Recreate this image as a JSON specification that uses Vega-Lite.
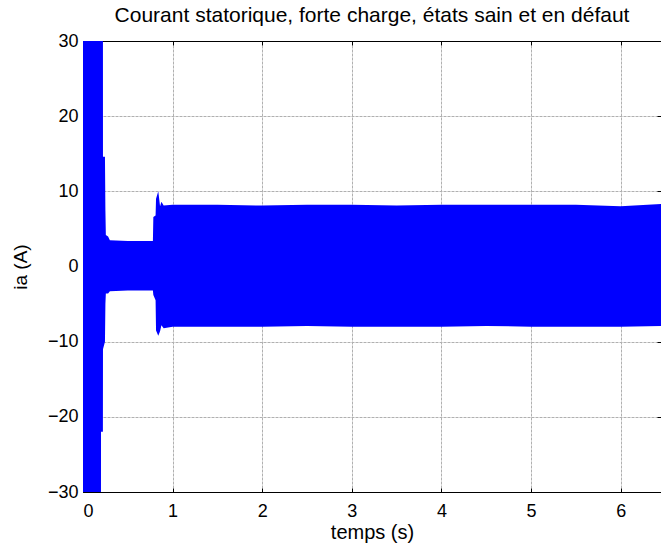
{
  "$schema": "https://vega.github.io/schema/vega-lite/v6.json",
  "width": 578,
  "height": 451,
  "autosize": {"type": "none"},
  "padding": {"left": 83, "top": 41, "right": 0, "bottom": 59},
  "background": "white",
  "config": {
    "font": "Liberation Sans",
    "view": {"stroke": "black", "strokeWidth": 1},
    "axis": {
      "labelFont": "Liberation Sans",
      "titleFont": "Liberation Sans",
      "labelFontSize": 18,
      "titleFontSize": 19,
      "labelColor": "black",
      "titleColor": "black",
      "titleFontWeight": "normal",
      "domainColor": "black",
      "tickColor": "black",
      "gridColor": "#b0b0b0",
      "gridDash": [3, 1],
      "gridWidth": 1
    },
    "title": {"font": "Liberation Sans", "fontSize": 21, "fontWeight": "normal", "color": "black"}
  },
  "title": {"text": "Courant statorique, forte charge, états sain et en défaut", "anchor": "middle", "offset": 6},
  "data": {
    "values": [
      {"t": 0.0, "hi": 45, "lo": -45},
      {"t": 0.2, "hi": 45, "lo": -45},
      {"t": 0.201, "hi": 45, "lo": -22},
      {"t": 0.222, "hi": 45, "lo": -22},
      {"t": 0.223, "hi": 14.6, "lo": -11},
      {"t": 0.245, "hi": 14.6, "lo": -10},
      {"t": 0.25, "hi": 7.5, "lo": -5},
      {"t": 0.255, "hi": 4.2, "lo": -3.6},
      {"t": 0.28, "hi": 4.0, "lo": -3.6},
      {"t": 0.3, "hi": 3.5, "lo": -3.3},
      {"t": 0.5, "hi": 3.4, "lo": -3.2},
      {"t": 0.78, "hi": 3.4, "lo": -3.2},
      {"t": 0.785, "hi": 6.6, "lo": -3.8},
      {"t": 0.81, "hi": 6.8, "lo": -4.5},
      {"t": 0.815, "hi": 9.0, "lo": -8.5},
      {"t": 0.84, "hi": 10.0, "lo": -9.2},
      {"t": 0.86, "hi": 8.0, "lo": -8.6},
      {"t": 0.875, "hi": 8.6, "lo": -7.8},
      {"t": 0.9, "hi": 8.1, "lo": -8.2},
      {"t": 1.0, "hi": 8.2, "lo": -8.0},
      {"t": 1.5, "hi": 8.2, "lo": -8.0},
      {"t": 2.0, "hi": 8.1, "lo": -8.0},
      {"t": 2.5, "hi": 8.2, "lo": -7.9},
      {"t": 3.0, "hi": 8.2, "lo": -8.0},
      {"t": 3.5, "hi": 8.1, "lo": -8.0},
      {"t": 4.0, "hi": 8.2, "lo": -8.0},
      {"t": 4.5, "hi": 8.2, "lo": -7.9},
      {"t": 5.0, "hi": 8.2, "lo": -8.0},
      {"t": 5.5, "hi": 8.2, "lo": -8.0},
      {"t": 6.0, "hi": 8.0, "lo": -8.0},
      {"t": 6.45, "hi": 8.3, "lo": -7.9}
    ]
  },
  "layer": [
    {
      "mark": {"type": "area", "color": "#0000ff", "clip": true, "opacity": 1},
      "encoding": {
        "x": {
          "field": "t", "type": "quantitative",
          "scale": {"domain": [0, 6.45], "nice": false, "zero": false},
          "axis": {"title": "temps (s)", "titleFontSize": 20, "values": [0, 1, 2, 3, 4, 5, 6], "tickSize": -4, "labelPadding": 14, "titlePadding": 2, "grid": true}
        },
        "y": {
          "field": "hi", "type": "quantitative",
          "scale": {"domain": [-30, 30], "nice": false},
          "axis": {"title": "ia (A)", "values": [-30, -20, -10, 0, 10, 20, 30], "tickSize": -4, "labelPadding": 9, "titlePadding": 17, "grid": true}
        },
        "y2": {"field": "lo"}
      }
    },
    {
      "mark": {"type": "rule", "opacity": 0, "clip": true},
      "encoding": {
        "x": {
          "field": "t", "type": "quantitative",
          "axis": {"orient": "top", "title": null, "labels": false, "values": [0, 1, 2, 3, 4, 5, 6], "tickSize": -4, "grid": false}
        },
        "y": {
          "field": "hi", "type": "quantitative",
          "axis": {"orient": "right", "title": null, "labels": false, "values": [-30, -20, -10, 0, 10, 20, 30], "tickSize": -4, "grid": false}
        }
      }
    }
  ],
  "resolve": {"axis": {"x": "independent", "y": "independent"}}
}
